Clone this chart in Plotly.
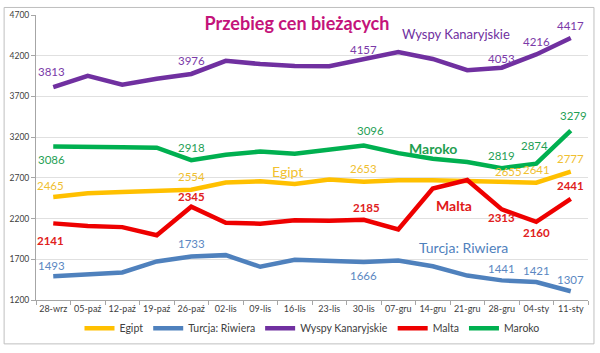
import plotly.graph_objects as go

categories = ["28-wrz", "05-paź", "12-paź", "19-paź", "26-paź", "02-lis", "09-lis", "16-lis",
              "23-lis", "30-lis", "07-gru", "14-gru", "21-gru", "28-gru", "04-sty", "11-sty"]

egipt = [2465, 2510, 2525, 2540, 2554, 2643, 2658, 2625, 2680, 2653, 2670, 2670, 2662, 2655, 2641, 2777]
turcja = [1493, 1520, 1539, 1674, 1733, 1751, 1608, 1693, 1684, 1666, 1684, 1615, 1500, 1441, 1421, 1307]
wyspy = [3813, 3952, 3844, 3918, 3976, 4137, 4098, 4075, 4071, 4157, 4245, 4160, 4022, 4053, 4216, 4417]
malta = [2141, 2110, 2095, 1995, 2345, 2149, 2137, 2180, 2173, 2185, 2066, 2570, 2674, 2313, 2160, 2441]
maroko = [3086, 3075, 3075, 3070, 2918, 2984, 3023, 2996, 3042, 3096, 3004, 2935, 2895, 2819, 2874, 3279]

series = [
    ("Egipt", egipt, "#FFC000", "#F0C030", False),
    ("Turcja: Riwiera", turcja, "#4F81BD", "#5B87C2", False),
    ("Wyspy Kanaryjskie", wyspy, "#7030A0", "#7A3AA8", False),
    ("Malta", malta, "#EE0000", "#E02020", True),
    ("Maroko", maroko, "#00B050", "#1FA055", False),
]

# labelled points: (series index, category index, yshift, xshift)
labelled = [
    (2, 0, 16, -2), (2, 4, 13, 0), (2, 9, 10, 0), (2, 13, 9, 0), (2, 14, 13, 0), (2, 15, 13, 0),
    (4, 0, -13, -2), (4, 4, 13, 0), (4, 9, 15, 7), (4, 13, 13, 0), (4, 14, 18, -2), (4, 15, 15, 3),
    (0, 0, 11, -3), (0, 4, 13, 0), (0, 9, 13, 0), (0, 13, 10, 7), (0, 14, 13, 0), (0, 15, 13, 0),
    (3, 0, -17, -3), (3, 4, 10, 0), (3, 9, 12, 3), (3, 13, -8, 0), (3, 14, -11, 0), (3, 15, 13, 0),
    (1, 0, 11, -2), (1, 4, 13, 0), (1, 9, -13, 0), (1, 13, 12, 0), (1, 14, 12, 0), (1, 15, 12, 0),
]

fig = go.Figure()
for name, vals, col, _, _ in series:
    fig.add_trace(go.Scatter(x=categories, y=vals, name=name, mode="lines",
                             line=dict(color=col, width=4.5)))

annotations = []
for si, ci, ys, xs in labelled:
    name, vals, col, tcol, bold = series[si]
    txt = f"<b>{vals[ci]}</b>" if bold else str(vals[ci])
    annotations.append(dict(x=categories[ci], y=vals[ci], xref="x", yref="y",
                            text=txt, showarrow=False, yshift=ys, xshift=xs,
                            font=dict(family="Lato", size=11.5, color=tcol)))

# series name labels (paper coords)
names = [
    ("Wyspy Kanaryjskie", 0.760, 0.934, "#7030A0", 13, False),
    ("Maroko", 0.720, 0.532, "#1F9E4F", 14, True),
    ("Egipt", 0.455, 0.450, "#F2C12E", 14, False),
    ("Malta", 0.758, 0.330, "#E01818", 14, True),
    ("Turcja: Riwiera", 0.774, 0.185, "#4F81BD", 14, False),
]
for t, x, y, c, s, b in names:
    annotations.append(dict(x=x, y=y, xref="paper", yref="paper", text=f"<b>{t}</b>" if b else t,
                            showarrow=False, font=dict(family="Lato", size=s, color=c),
                            xanchor="center", yanchor="middle"))

fig.update_layout(
    width=600, height=353,
    margin=dict(l=34, r=12, t=10, b=40),
    paper_bgcolor="white", plot_bgcolor="white",
    title=dict(text="<b>Przebieg cen bieżących</b>", x=0.495, y=0.932, xanchor="center", yanchor="middle",
               font=dict(family="Lato", size=18, color="#C4137A")),
    annotations=annotations,
    showlegend=True,
    legend=dict(orientation="h", x=0.5, xanchor="center", y=-0.099, yanchor="middle",
                font=dict(family="Lato", size=10.5, color="#404040"), itemwidth=30,
                bgcolor="rgba(0,0,0,0)", tracegroupgap=0),
    xaxis=dict(type="category", range=[-0.5, 15.5], showgrid=False, showline=True,
               linecolor="#A6A6A6", linewidth=1, ticks="outside", tickson="boundaries",
               ticklen=4, tickcolor="#A6A6A6", tickangle=0,
               tickfont=dict(family="Lato", size=9, color="#404040")),
    yaxis=dict(range=[1200, 4700], dtick=500, tick0=1200, showgrid=True, gridcolor="#E0E0E0",
               showline=True, linecolor="#A6A6A6", linewidth=1, ticks="outside", ticklen=4,
               tickcolor="#A6A6A6", zeroline=False,
               tickfont=dict(family="Lato", size=8.5, color="#404040")),
    shapes=[dict(type="rect", xref="paper", yref="paper",
                 x0=(2 - 34) / 554, x1=(594 - 34) / 554,
                 y0=(313.3 - 360) / 303.3, y1=(313.3 - 2) / 303.3,
                 line=dict(color="#BFBFBF", width=1), fillcolor="rgba(0,0,0,0)", layer="below")],
)

fig.write_html("out.html")
